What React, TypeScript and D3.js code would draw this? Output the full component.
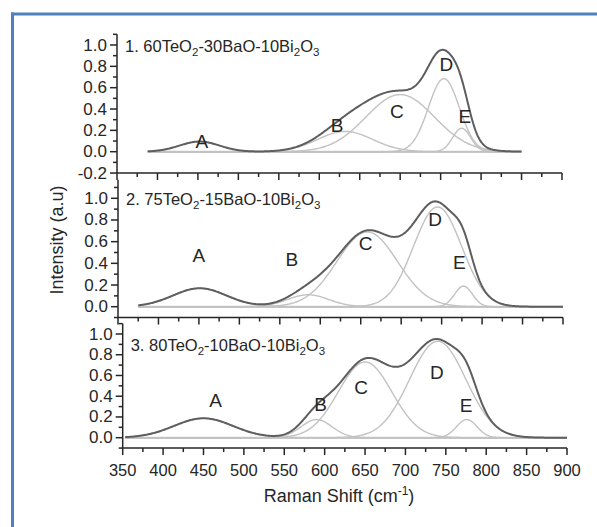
import React from 'react';
import * as d3 from 'd3';

const teo2 = [60, 75, 80];
const bao = [30, 15, 10];
const bi2o3 = [10, 10, 10];

const bands = ['A', 'B', 'C', 'D', 'E'];

// fitted bands: centre (cm-1), height (a.u), FWHM (cm-1)
const centre1 = [452, 632, 700, 754, 776];
const height1 = [0.095, 0.19, 0.535, 0.685, 0.22];
const fwhm1 = [58, 80, 100, 45, 26];

const centre2 = [451, 585, 658, 745, 777];
const height2 = [0.17, 0.11, 0.69, 0.92, 0.19];
const fwhm2 = [78, 60, 88, 70, 26];

const centre3 = [450, 590, 650, 740, 776];
const height3 = [0.187, 0.175, 0.73, 0.93, 0.175];
const fwhm3 = [86, 45, 78, 82, 30];

// measured range of each spectrum
const span1 = [388, 850];
const span2 = [375, 900];
const span3 = [353, 900];

// band letters, in data units
const labelX1 = [455, 622, 696, 757, 780];
const labelY1 = [0.094, 0.25, 0.375, 0.82, 0.33];
const labelX2 = [450, 565, 656, 742, 772];
const labelY2 = [0.47, 0.44, 0.58, 0.8, 0.41];
const labelX3 = [465, 595, 645, 739, 775];
const labelY3 = [0.357, 0.32, 0.486, 0.627, 0.31];

const xTicks = [350, 400, 450, 500, 550, 600, 650, 700, 750, 800, 850, 900];
const yTicks = [-0.2, 0.0, 0.2, 0.4, 0.6, 0.8, 1.0];

const font = 'Liberation Sans, Arial, sans-serif';
const ink = '#262626';

// the three graphs were pasted together, so each has its own frame
const frames = [
  { left: 117, right: 562, y0: 151.7, y1: 45, yMin: -0.2, yMax: 1.1, titleY: 52 },
  { left: 118, right: 563, y0: 306.7, y1: 198.3, yMin: -0.1, yMax: 1.17, titleY: 205 },
  { left: 122.7, right: 567, y0: 437.7, y1: 334, yMin: -0.1, yMax: 1.1, titleY: 351 },
];

const peaks = [
  { c: centre1, h: height1, w: fwhm1, span: span1, lx: labelX1, ly: labelY1 },
  { c: centre2, h: height2, w: fwhm2, span: span2, lx: labelX2, ly: labelY2 },
  { c: centre3, h: height3, w: fwhm3, span: span3, lx: labelX3, ly: labelY3 },
];

function band(v, c, h, w) {
  const s = w / 2.3548;
  return h * Math.exp(-((v - c) * (v - c)) / (2 * s * s));
}

function Panel({ i }) {
  const f = frames[i];
  const p = peaks[i];
  const x = d3.scaleLinear().domain([350, 900]).range([f.left, f.right]);
  const y = d3.scaleLinear().domain([0, 1]).range([f.y0, f.y1]);
  const xs = d3.range(p.span[0], p.span[1] + 0.5, 1);
  const line = d3.line().x(d => x(d[0])).y(d => y(d[1]));

  const comps = p.c.map((c, k) => xs.map(v => [v, band(v, c, p.h[k], p.w[k])]));
  const sum = xs.map(v => [v, d3.sum(p.c, (c, k) => band(v, c, p.h[k], p.w[k]))]);

  const bottom = y(f.yMin);
  const top = y(f.yMax);
  const yMinor = d3.range(Math.ceil(f.yMin * 10 - 1e-6), Math.floor(f.yMax * 10 + 1e-6) + 1).map(t => t / 10);
  const xMinor = d3.range(375, 900, 50);

  return (
    <g>
      <line x1={x(p.span[0])} x2={x(p.span[1])} y1={y(0)} y2={y(0)} stroke="#c9c9c9" strokeWidth={2} />
      {comps.map((c, k) => (
        <path key={k} d={line(c)} fill="none" stroke="#c2c2c2" strokeWidth={1.4} />
      ))}
      <path d={line(sum)} fill="none" stroke="#5e5e5e" strokeWidth={2} />

      {bands.map((b, k) => (
        <text key={b} x={x(p.lx[k])} y={y(p.ly[k])} textAnchor="middle" dominantBaseline="central"
          fontSize={19} fontFamily={font} fill={ink}>{b}</text>
      ))}

      <text x={f.left + 8} y={f.titleY} fontSize={16.5} fontFamily={font} fill={ink}>
        {`${i + 1}. ${teo2[i]}TeO`}
        <tspan fontSize={11.5} dy={4}>2</tspan>
        <tspan dy={-4}>{`-${bao[i]}BaO-${bi2o3[i]}Bi`}</tspan>
        <tspan fontSize={11.5} dy={4}>2</tspan>
        <tspan dy={-4}>O</tspan>
        <tspan fontSize={11.5} dy={4}>3</tspan>
      </text>

      <g stroke={ink} strokeWidth={1.5}>
        <line x1={f.left} x2={f.left} y1={top} y2={bottom} />
        <line x1={f.left} x2={f.right} y1={bottom} y2={bottom} />
        {yMinor.map(t => (
          <line key={t} x1={f.left} x2={f.left - (Math.round(t * 10) % 2 === 0 ? 7 : 4)} y1={y(t)} y2={y(t)} />
        ))}
        {xTicks.map(t => (
          <line key={t} x1={x(t)} x2={x(t)} y1={bottom} y2={bottom + 7} />
        ))}
        {xMinor.map(t => (
          <line key={t} x1={x(t)} x2={x(t)} y1={bottom} y2={bottom + 4} />
        ))}
      </g>
      {yTicks.filter(t => t >= f.yMin - 1e-6).map(t => (
        <text key={t} x={f.left - 10} y={y(t)} textAnchor="end" dominantBaseline="central"
          fontSize={17} fontFamily={font} fill={ink}>{t.toFixed(1)}</text>
      ))}
      {i === 2 && xTicks.map(t => (
        <text key={t} x={x(t)} y={bottom + 27.5} textAnchor="middle" fontSize={16.5} fontFamily={font} fill={ink}>{t}</text>
      ))}
    </g>
  );
}

export default function App() {
  return (
    <svg width={597} height={527} style={{ position: 'absolute', left: 0, top: 0, background: '#fff' }}>
      <rect width={597} height={527} fill="#fff" />
      <line x1={12.5} x2={12.5} y1={12.5} y2={527} stroke="#4f81bd" strokeWidth={3} />
      <line x1={11} x2={597} y1={14} y2={14} stroke="#4f81bd" strokeWidth={3} />
      {[0, 1, 2].map(i => <Panel key={i} i={i} />)}
      <text transform="translate(63,240) rotate(-90)" textAnchor="middle" fontSize={18} fontFamily={font} fill={ink}>
        Intensity (a.u)
      </text>
      <text x={339} y={502} textAnchor="middle" fontSize={18} fontFamily={font} fill={ink}>
        Raman Shift (cm<tspan fontSize={12} dy={-7}>-1</tspan><tspan dy={7}>)</tspan>
      </text>
    </svg>
  );
}
